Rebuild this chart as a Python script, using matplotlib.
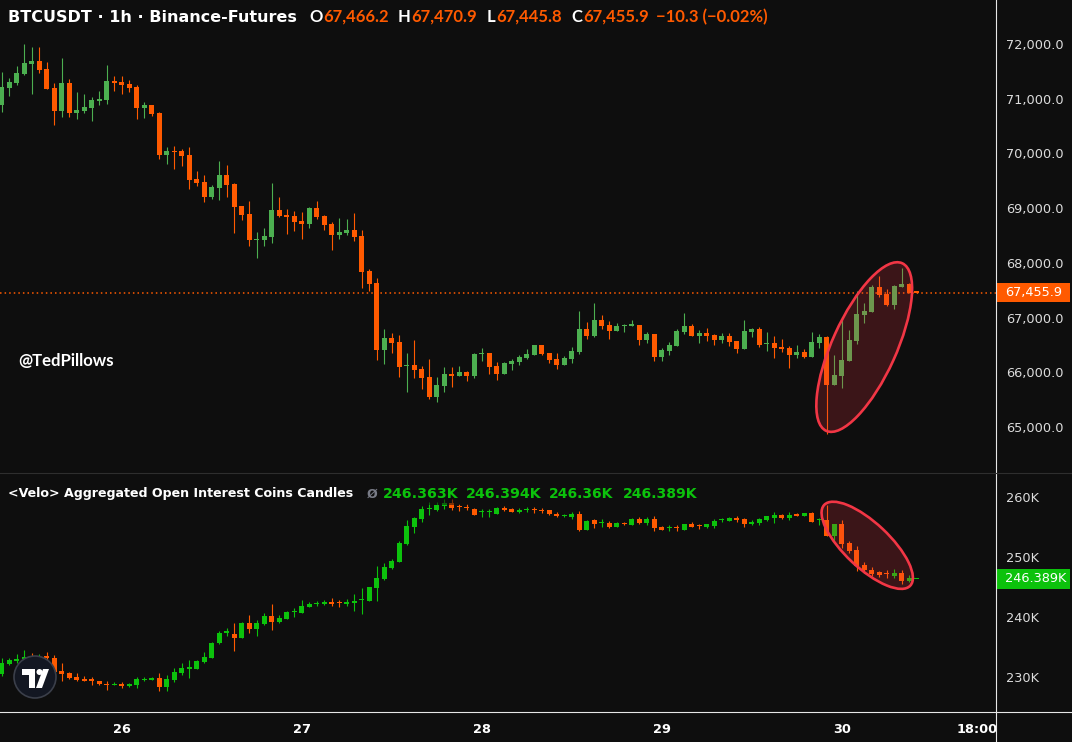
import numpy as np
import matplotlib
matplotlib.use("Agg")
import matplotlib.pyplot as plt
from matplotlib.patches import Ellipse, Circle, Polygon, Rectangle
from matplotlib.lines import Line2D
from matplotlib.transforms import Affine2D, IdentityTransform, blended_transform_factory

# --- BTCUSDT 1h candles (Mar 25 08:00 -> Mar 30 10:00) ---
px_open = [70885, 71196, 71287, 71452, 71634, 71689, 71543, 71196, 70775, 71287,
           70739, 70775, 70830, 70958, 70976, 71324, 71305, 71269, 71214, 70830,
           70885, 70739, 69971, 70044, 70044, 69971, 69532, 69477, 69203, 69368,
           69605, 69441, 69039, 68892, 68417, 68417, 68472, 68966, 68874, 68856,
           68765, 68710, 69002, 68856, 68710, 68509, 68545, 68600, 68490, 67850,
           67631, 66406, 66626, 66553, 66114, 66132, 66059, 65913, 65547, 65749,
           65968, 65931, 66004, 65931, 66333, 66352, 66114, 65968, 66151, 66187,
           66260, 66315, 66498, 66352, 66242, 66132, 66242, 66370, 66790, 66662,
           66955, 66864, 66754, 66836, 66852, 66864, 66589, 66699, 66279, 66388,
           66479, 66735, 66845, 66662, 66717, 66681, 66589, 66662, 66571, 66425,
           66736, 66790, 66516, 66535, 66461, 66443, 66315, 66370, 66279, 66534,
           66644, 65767, 65931, 66205, 66571, 67046, 67101, 67558, 67430, 67229,
           67558, 67613, 67466.2]
px_high = [71488, 71378, 71598, 72000, 71945, 71945, 71671, 71287, 71744, 71360,
           71123, 71086, 71031, 71141, 71616, 71415, 71415, 71342, 71250, 70940,
           70885, 70757, 70117, 70135, 70081, 70117, 69679, 69606, 69423, 69861,
           69788, 69459, 69039, 69130, 68563, 68637, 69459, 69203, 68984, 68947,
           68929, 69020, 69130, 68874, 68746, 68819, 68801, 68911, 68600, 67887,
           67723, 66790, 66717, 66681, 66352, 66589, 66114, 66242, 65913, 66096,
           66096, 66114, 66023, 66352, 66443, 66352, 66187, 66187, 66242, 66315,
           66425, 66498, 66498, 66352, 66352, 66297, 66461, 67119, 66918, 67265,
           67046, 66937, 66900, 66882, 66955, 66864, 66736, 66699, 66443, 66553,
           66790, 67083, 66882, 66772, 66809, 66699, 66717, 66717, 66571, 66955,
           66809, 66827, 66735, 66662, 66608, 66479, 66498, 66425, 66736, 66699,
           66662, 66315, 67009, 66772, 67485, 67265, 67595, 67759, 67521, 67595,
           67905, 67630, 67470.9]
px_low = [70757, 71049, 71250, 71433, 71086, 71470, 71177, 70519, 70665, 70665,
          70629, 70739, 70592, 70885, 70903, 71141, 71086, 71123, 70629, 70647,
          70684, 69898, 69806, 69715, 69770, 69350, 69404, 69112, 69167, 69148,
          69203, 68545, 68783, 68308, 68088, 68308, 68362, 68838, 68527, 68582,
          68435, 68637, 68801, 68600, 68234, 68436, 68509, 68399, 67540, 67485,
          66224, 66151, 66352, 65913, 65639, 65895, 65694, 65511, 65456, 65639,
          65730, 65931, 65840, 65895, 66205, 65968, 65858, 65968, 66041, 66132,
          66242, 66315, 66315, 66169, 66059, 66132, 66169, 66333, 66608, 66644,
          66790, 66607, 66754, 66736, 66852, 66498, 66535, 66205, 66205, 66315,
          66479, 66699, 66662, 66535, 66571, 66498, 66535, 66479, 66352, 66425,
          66644, 66461, 66388, 66260, 66370, 66077, 66260, 66260, 66279, 66443,
          64871, 65767, 65712, 66205, 66516, 66900, 67101, 67375, 67211, 67156,
          67558, 67440, 67445.8]
px_close = [71214, 71305, 71470, 71653, 71689, 71525, 71177, 70775, 71287, 70739,
            70794, 70848, 70976, 70994, 71324, 71287, 71250, 71196, 70830, 70885,
            70720, 69971, 70044, 70026, 69953, 69514, 69459, 69203, 69386, 69605,
            69423, 69020, 68874, 68417, 68435, 68490, 68966, 68856, 68838, 68746,
            68710, 69002, 68838, 68691, 68509, 68563, 68600, 68472, 67832, 67613,
            66406, 66626, 66535, 66096, 66132, 66041, 65895, 65547, 65767, 65968,
            65931, 66004, 65931, 66333, 66352, 66096, 65968, 66169, 66205, 66279,
            66333, 66498, 66333, 66224, 66132, 66260, 66388, 66790, 66662, 66955,
            66845, 66754, 66845, 66845, 66864, 66589, 66699, 66279, 66406, 66498,
            66754, 66845, 66662, 66717, 66662, 66589, 66662, 66553, 66425, 66754,
            66790, 66498, 66535, 66443, 66425, 66315, 66370, 66279, 66553, 66644,
            65767, 65949, 66224, 66589, 67064, 67119, 67558, 67412, 67229, 67576,
            67613, 67450, 67455.9]

# --- <Velo> aggregated open interest (coins, thousands) ---
oi_open = [230.5, 232.17, 232.67, 233.0, 233.4, 233.0, 233.5, 233.1, 231.0, 230.67,
           230.0, 229.67, 229.6, 229.3, 228.9, 228.7, 228.8, 228.45, 228.7, 229.5,
           229.55, 229.8, 228.4, 229.55, 230.7, 231.4, 231.4, 232.5, 233.2, 235.7,
           237.4, 237.17, 236.5, 239.0, 238.0, 238.8, 240.2, 239.2, 239.67, 240.8,
           240.67, 241.67, 242.2, 242.17, 242.5, 242.4, 242.17, 242.33, 242.8, 242.67,
           244.83, 246.33, 248.17, 249.17, 252.17, 255.0, 256.33, 258.0, 257.83, 258.5,
           259.0, 258.5, 258.33, 258.0, 257.45, 257.55, 257.2, 258.2, 258.0, 257.55,
           257.8, 257.9, 257.9, 257.8, 257.2, 256.8, 256.67, 257.2, 254.55, 256.1,
           255.6, 255.67, 255.0, 255.67, 255.33, 256.33, 255.67, 256.33, 255.05, 254.85,
           254.9, 254.55, 255.55, 255.2, 255.0, 255.1, 256.1, 256.0, 256.45, 256.33,
           255.45, 255.67, 256.1, 256.45, 257.0, 256.45, 257.0, 256.9, 257.33, 256.1,
           256.2, 253.55, 255.45, 252.33, 251.1, 248.67, 247.78, 247.45, 247.2, 246.9,
           247.33, 246.0, 246.363]
oi_high = [233.1, 233.1, 233.9, 234.5, 234.0, 233.8, 234.2, 233.7, 232.3, 230.8,
           230.6, 230.2, 230.0, 229.4, 229.3, 229.1, 229.1, 229.05, 230.0, 230.0,
           230.05, 230.6, 230.3, 231.5, 232.3, 232.8, 232.8, 234.2, 235.8, 237.6,
           238.2, 239.0, 239.2, 240.3, 239.5, 240.7, 242.2, 240.3, 241.0, 241.5,
           242.8, 242.5, 242.67, 242.83, 243.17, 242.83, 243.0, 243.83, 244.83, 245.0,
           248.5, 249.0, 249.67, 252.67, 256.17, 256.67, 258.5, 259.17, 259.17, 259.67,
           259.67, 258.83, 258.83, 258.1, 258.0, 258.0, 258.3, 258.5, 258.1, 258.2,
           258.3, 258.3, 258.2, 257.9, 257.5, 257.2, 257.55, 257.67, 256.2, 256.33,
           256.33, 256.0, 255.9, 255.9, 256.55, 256.67, 256.67, 256.9, 255.2, 255.33,
           255.33, 255.55, 255.8, 255.55, 255.55, 256.33, 256.55, 256.67, 256.9, 256.45,
           256.2, 256.55, 256.9, 257.45, 257.2, 257.45, 257.33, 257.33, 257.45, 256.55,
           258.67, 255.45, 256.1, 252.67, 251.78, 249.1, 248.33, 247.67, 247.78, 248.0,
           247.78, 247.0, 246.394]
oi_low = [230.2, 232.0, 232.3, 232.8, 232.8, 232.7, 232.9, 230.9, 229.4, 229.7,
          229.3, 229.3, 228.7, 228.7, 227.9, 228.6, 228.2, 228.3, 228.1, 229.3,
          229.5, 227.7, 227.6, 229.2, 230.4, 229.8, 231.3, 232.3, 233.2, 235.5,
          236.9, 234.3, 236.5, 237.3, 236.8, 238.7, 237.8, 239.0, 239.67, 240.0,
          240.67, 241.67, 241.83, 242.0, 241.83, 241.67, 241.83, 241.0, 240.5, 242.67,
          242.67, 246.17, 248.0, 249.17, 252.0, 254.0, 255.83, 257.0, 257.67, 258.0,
          257.83, 257.67, 257.83, 257.0, 256.6, 256.7, 257.2, 257.67, 257.5, 257.4,
          257.5, 257.4, 257.4, 257.0, 256.67, 256.67, 256.3, 254.33, 254.55, 254.83,
          255.0, 254.8, 255.0, 255.4, 255.33, 255.55, 255.33, 254.33, 254.55, 254.33,
          254.33, 254.55, 255.0, 254.67, 254.9, 254.78, 255.9, 256.0, 255.9, 255.0,
          255.33, 255.33, 256.0, 255.67, 256.33, 256.1, 256.9, 256.9, 255.9, 255.33,
          253.55, 252.55, 251.55, 250.67, 247.67, 247.33, 246.9, 246.67, 246.55, 246.45,
          245.45, 245.78, 246.36]
oi_close = [232.28, 232.83, 233.0, 233.3, 233.0, 233.4, 233.1, 230.9, 230.55, 229.9,
            229.56, 229.4, 229.3, 228.8, 228.6, 228.8, 228.45, 228.9, 229.6, 229.6,
            229.8, 228.4, 229.6, 230.8, 231.5, 231.5, 232.67, 233.3, 235.7, 237.4,
            237.5, 236.5, 239.0, 238.0, 239.0, 240.2, 239.2, 239.8, 240.83, 240.85,
            241.83, 242.17, 242.3, 242.5, 242.17, 242.3, 242.5, 242.67, 242.9, 245.0,
            246.5, 248.33, 249.33, 252.33, 255.17, 256.5, 258.0, 258.05, 258.67, 259.0,
            258.17, 258.33, 258.2, 257.0, 257.5, 257.6, 258.1, 257.9, 257.55, 257.9,
            257.85, 257.8, 257.7, 257.1, 256.8, 256.85, 257.2, 254.55, 256.0, 255.5,
            255.65, 255.0, 255.67, 255.5, 256.33, 255.67, 256.33, 254.9, 254.55, 254.95,
            254.8, 255.55, 255.0, 255.1, 255.45, 256.0, 256.2, 256.55, 256.1, 255.45,
            255.9, 256.33, 256.78, 257.0, 256.55, 257.0, 256.9, 257.33, 255.9, 256.2,
            253.55, 255.45, 252.2, 251.0, 248.55, 247.78, 247.1, 247.0, 247.1, 247.33,
            246.0, 246.55, 246.389]

day_ticks = [16, 40, 64, 88, 112, 130]
day_labels = ["26", "27", "28", "29", "30", "18:00"]
price_ticks = [65000, 66000, 67000, 68000, 69000, 70000, 71000, 72000]
oi_ticks = [230, 240, 250, 260]

# highlighted regions (candle index, value)
price_mark = (115.0, 66460)
oi_mark = (115.4, 251.95)

BG = "#0e0e0e"
UP = "#4caf50"
DOWN = "#ff5a00"
OI_UP = "#0cc20c"
RING = "#f23645"
TXT = "#dcdcdc"
W, H = 1072, 742

fig = plt.figure(figsize=(W / 100, H / 100), dpi=100, facecolor=BG)
rend = fig.canvas.get_renderer()


def px_axes(x0, y0, x1, y1):
    a = fig.add_axes([x0 / W, 1 - y1 / H, (x1 - x0) / W, (y1 - y0) / H])
    a.set_facecolor(BG)
    for s in a.spines.values():
        s.set_visible(False)
    return a


def candles(a, o, h, l, c, up, down, min_body):
    o, h, l, c = map(np.asarray, (o, h, l, c))
    x = np.arange(len(o))
    cols = np.where(c >= o, up, down)
    a.vlines(x, l, h, colors=cols, linewidth=0.8, zorder=2)
    a.bar(x, np.maximum(np.abs(c - o), min_body), bottom=np.minimum(o, c),
          width=0.64, color=cols, linewidth=0, zorder=3)


def fit(t, width):
    w = t.get_window_extent(rend).width
    t.set_fontsize(t.get_fontsize() * width / w)
    return t


ax = px_axes(0, 0, 996, 472)
ax2 = px_axes(0, 473, 996, 712)
xlim = (-0.227, 132.57)

candles(ax, px_open, px_high, px_low, px_close, UP, DOWN, 22)
ax.set_xlim(*xlim)
ax.set_ylim(64176, 72804)
ax.axhline(px_close[-1], color=DOWN, lw=1.1, ls=(0, (1, 2)), zorder=1)

candles(ax2, oi_open, oi_high, oi_low, oi_close, OI_UP, DOWN, 0.2)
ax2.set_xlim(*xlim)
ax2.set_ylim(224.17, 264.0)

for a, ticks, fmt in ((ax, price_ticks, lambda v: f"{v:,.1f}"),
                      (ax2, oi_ticks, lambda v: f"{v:.0f}K")):
    a.yaxis.tick_right()
    a.set_yticks(ticks)
    a.set_yticklabels([fmt(v) for v in ticks])
    a.tick_params(axis="y", length=0, pad=7, labelsize=9.3, labelcolor=TXT)
ax.set_xticks([])
ax2.set_xticks(day_ticks)
ax2.set_xticklabels(day_labels)
ax2.tick_params(axis="x", length=0, pad=8, labelsize=9.3, labelcolor="white")
for lab in ax2.get_xticklabels():
    lab.set_fontweight("bold")

# last value boxes on the price scale
for a, val, txt, col, hpx in ((ax, px_close[-1], "67,455.9", DOWN, 19),
                              (ax2, oi_close[-1], "246.389K", OI_UP, 20)):
    tr = blended_transform_factory(fig.transFigure, a.transData)
    lo, hi = a.get_ylim()
    hh = hpx * (hi - lo) / (a.get_position().height * H)
    a.add_artist(Rectangle((996 / W, val - hh / 2), 74 / W, hh, transform=tr,
                           facecolor=col, edgecolor="none", clip_on=False, zorder=5))
    a.text(1005 / W, val, txt, transform=tr, color="white", fontsize=9.3,
           va="center", ha="left", clip_on=False, zorder=6)

# separators
fig.add_artist(Line2D([996 / W] * 2, [0, 1], color="#e6e6e6", lw=0.8))
fig.add_artist(Line2D([0, 1], [1 - 712 / H] * 2, color="#e6e6e6", lw=0.8))
fig.add_artist(Line2D([0, 1], [1 - 472.5 / H] * 2, color="#2e2e2e", lw=0.8))

# highlight rings
for a, (cx, cy), wpx, hpx, ang in ((ax, price_mark, 184, 64, 65.6),
                                   (ax2, oi_mark, 118, 45, -43.2)):
    dx, dy = a.transData.transform((cx, cy))
    a.add_artist(Ellipse((dx, dy), wpx, hpx, angle=ang, transform=IdentityTransform(),
                         facecolor=(0.95, 0.21, 0.27, 0.2), edgecolor=RING,
                         lw=1.9, zorder=7, clip_on=False))


def chain(a, t, parts, fs, weight, family, bbox=None):
    for s, col, gap, width in parts:
        t = a.annotate(s, xy=(1, 0.5), xycoords=t, xytext=(gap, 0),
                       textcoords="offset pixels", color=col, fontsize=fs,
                       fontweight=weight, va="center", ha="left", family=family,
                       annotation_clip=False, clip_on=False, bbox=bbox, zorder=8)
        if width:
            fit(t, width)
    return t


title = fig.text(8 / W, 1 - 17 / H, "BTCUSDT · 1h · Binance-Futures", color="white",
                 fontsize=11, fontweight="bold", va="center", ha="left")
fit(title, 288)
chain(ax, title, [("O", "white", 12, 0), ("67,466.2", DOWN, 1, 0), ("H", "white", 9, 0),
                  ("67,470.9", DOWN, 1, 0), ("L", "white", 9, 0), ("67,445.8", DOWN, 1, 0),
                  ("C", "white", 9, 0), ("67,455.9", DOWN, 1, 0),
                  ("\u221210.3 (\u22120.02%)", DOWN, 7, 0)], 12, "bold", "Lato")

dim = dict(boxstyle="square,pad=0.25", facecolor=BG, edgecolor="none", alpha=0.55)
leg = fig.text(8 / W, 1 - 494 / H, "<Velo> Aggregated Open Interest Coins Candles",
               color="white", fontsize=9.5, fontweight="bold", va="center", ha="left",
               bbox=dim)
fit(leg, 348)
chain(ax2, leg, [("Ø", "#787b86", 13, 0), ("246.363K", OI_UP, 6, 75),
                 ("246.394K", OI_UP, 7, 75), ("246.36K", OI_UP, 8, 64),
                 ("246.389K", OI_UP, 9, 74)],
      leg.get_fontsize(), "bold", "DejaVu Sans", bbox=dim)

wm = fig.text(18 / W, 1 - 361 / H, "@TedPillows", color="white", fontsize=11,
              fontweight="bold", family="Lato", va="center", ha="left")
fit(wm, 96)

# TradingView badge
pix = Affine2D().scale(1, -1).translate(0, H)
fig.add_artist(Circle((35, 677), 21, transform=pix, facecolor="#131722",
                      edgecolor="#3b3f4a", lw=1.2, zorder=8))
fig.add_artist(Polygon([(22, 669), (35, 669), (35, 688), (29, 688), (29, 675), (22, 675)],
                       closed=True, transform=pix, facecolor="white", edgecolor="none", zorder=9))
fig.add_artist(Circle((39.5, 672), 3, transform=pix, facecolor="white", edgecolor="none", zorder=9))
fig.add_artist(Polygon([(43, 669), (49, 669), (42, 688), (36, 688)], closed=True,
                       transform=pix, facecolor="white", edgecolor="none", zorder=9))

fig.savefig("out.png", dpi=100, facecolor=BG)
